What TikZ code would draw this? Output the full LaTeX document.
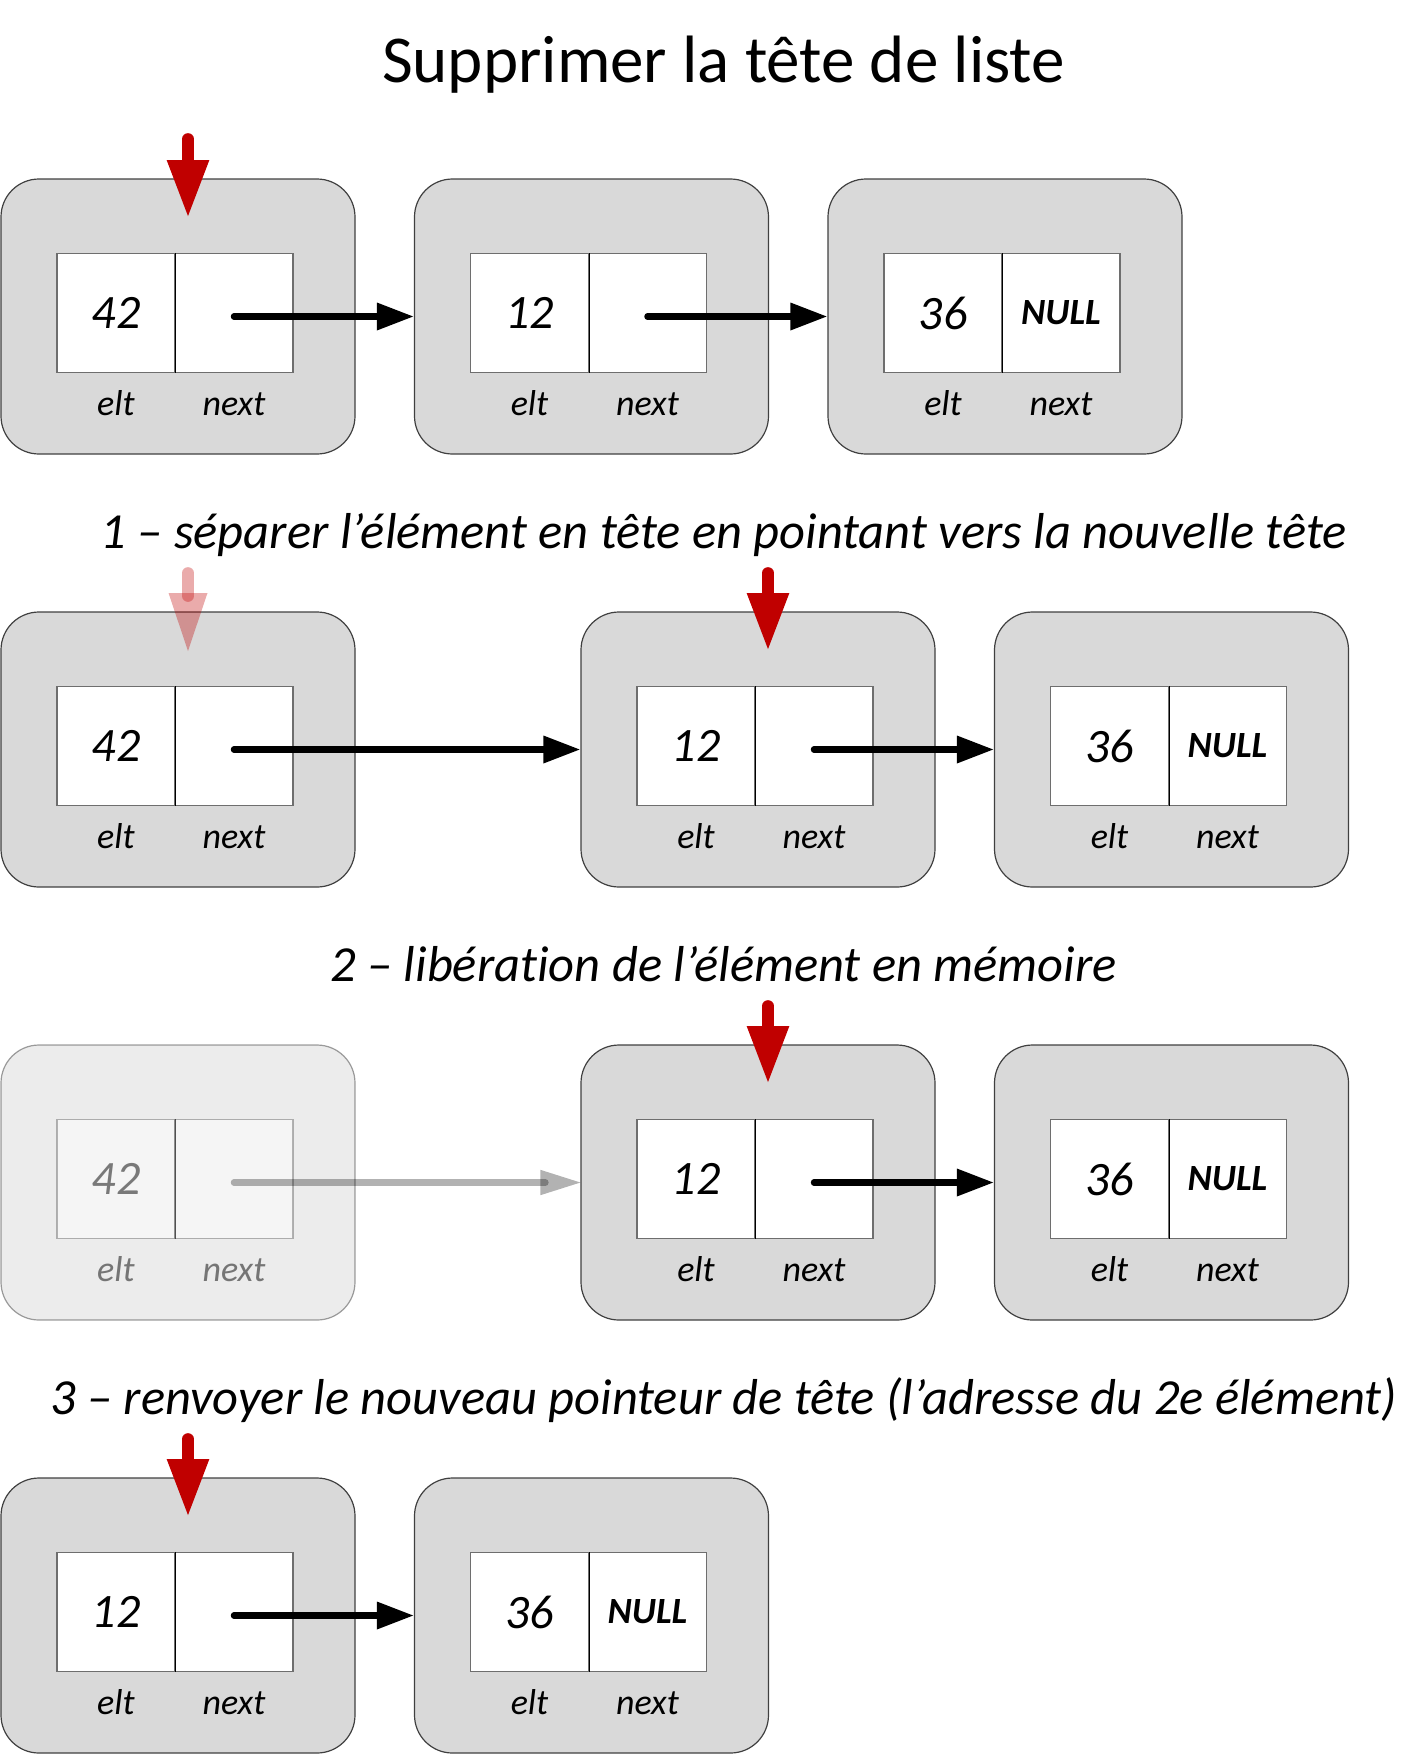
\documentclass[tikz,border=0pt]{standalone}
\usepackage{fontspec}
\setmainfont{Carlito}[Ligatures=NoCommon]
\usetikzlibrary{arrows.meta}
\definecolor{boxgray}{HTML}{D9D9D9}
\definecolor{boxline}{HTML}{404040}
\definecolor{cellline}{HTML}{6E6E6E}
\definecolor{ptrred}{HTML}{C00000}
\tikzset{
  elembox/.style={draw=boxline, fill=boxgray, line width=1.2pt, rounded corners=38pt,
    minimum width=354pt, minimum height=275pt, inner sep=0pt},
  cellbox/.style={draw=cellline, fill=white, line width=1.2pt,
    minimum width=118pt, minimum height=118.5pt, inner sep=0pt},
  valtxt/.style={font=\fontsize{48}{58}\selectfont\itshape, inner sep=0pt},
  nulltxt/.style={font=\fontsize{37}{44}\selectfont\bfseries\itshape, inner sep=0pt},
  labtxt/.style={font=\fontsize{36}{43}\selectfont\itshape, anchor=base, inner sep=0pt},
  ptr/.style={line width=6.5pt, line cap=round, -{Triangle[length=37pt,width=26pt]}},
  headptr/.style={draw=ptrred, fill=ptrred, line width=11.7pt, line cap=round,
    -{Triangle[length=58pt,width=39pt]}},
  titletxt/.style={font=\fontsize{67}{80}\selectfont, anchor=base, inner sep=0pt},
  steptxt/.style={font=\fontsize{50.5}{60}\selectfont\itshape, anchor=base, inner sep=0pt},
}
% #1 name, #2 left x, #3 top y, #4 elt value, #5 next value
\newcommand\listelem[5]{%
  \node[elembox] (#1) at ({#2+177},{#3+137.5}) {};
  \node[cellbox] (#1e) at ({#2+115},{#3+134}) {};
  \node[cellbox] (#1n) at ({#2+233},{#3+134}) {};
  \draw[line width=1.2pt] (#1e.north east) -- (#1e.south east);
  \node[valtxt] (#1v) at (#1e) {#4};
  \node[nulltxt] (#1p) at (#1n) {#5};
  \node[labtxt] (#1l) at ({#2+115},{#3+236}) {elt};
  \node[labtxt] (#1m) at ({#2+233},{#3+236}) {next};
}
\begin{document}
\begin{tikzpicture}[x=1pt,y=-1pt]
\useasboundingbox (0,0) rectangle (1419,1754);
\node[titletxt] (title) at (723.5,82) {Supprimer la tête de liste};

% ---------- row 1
\listelem{a1}{1}{179}{42}{}
\listelem{a2}{414.5}{179}{12}{}
\listelem{a3}{828}{179}{36}{NULL}
\draw[ptr] (a1n.center |- a2.west) -- (a2.west);
\draw[ptr] (a2n.center |- a3.west) -- (a3.west);
\coordinate (h1s) at (188,139);
\coordinate (h1t) at (188,218);
\draw[headptr] (h1s) -- (h1t);

% ---------- step 1
\node[steptxt] (s1) at (723.5,548) {1 – séparer l’élément en tête en pointant vers la nouvelle tête};
\listelem{b1}{1}{612}{42}{}
\listelem{b2}{581}{612}{12}{}
\listelem{b3}{994.5}{612}{36}{NULL}
\draw[ptr] (b1n.center |- b2.west) -- (b2.west);
\draw[ptr] (b2n.center |- b3.west) -- (b3.west);
\coordinate (h2s) at (188,573);
\coordinate (h2e) at (188,596);
\coordinate (h2t) at (188,651);
\draw[ptrred, opacity=0.33, line width=11.7pt, line cap=round] (h2s) -- (h2e);
\fill[ptrred, opacity=0.33] ([xshift=-19.5pt]h2t |- 0,593) -- ([xshift=19.5pt]h2t |- 0,593) -- (h2t) -- cycle;
\coordinate (h3s) at (768,573);
\coordinate (h3t) at (768,651);
\draw[headptr] (h3s) -- (h3t);

% ---------- step 2
\node[steptxt] (s2) at (723.5,981) {2 – libération de l’élément en mémoire};
\begin{scope}[opacity=0.5]
\listelem{c1}{1}{1045}{42}{}
\end{scope}
\listelem{c2}{581}{1045}{12}{}
\listelem{c3}{994.5}{1045}{36}{NULL}
\draw[black, opacity=0.3, line width=6.5pt, line cap=round] (c1n.center |- c2.west) -- ([xshift=-35pt]c2.west);
\fill[black, opacity=0.3] ([xshift=-40pt,yshift=12.7pt]c2.west) -- (c2.west) -- ([xshift=-40pt,yshift=-12.7pt]c2.west) -- cycle;
\draw[ptr] (c2n.center |- c3.west) -- (c3.west);
\coordinate (h4s) at (768,1006);
\coordinate (h4t) at (768,1084);
\draw[headptr] (h4s) -- (h4t);

% ---------- step 3
\node[steptxt] (s3) at (723.5,1414) {3 – renvoyer le nouveau pointeur de tête (l’adresse du 2e élément)};
\listelem{d1}{1}{1478}{12}{}
\listelem{d2}{414.5}{1478}{36}{NULL}
\draw[ptr] (d1n.center |- d2.west) -- (d2.west);
\coordinate (h5s) at (188,1439);
\coordinate (h5t) at (188,1517);
\draw[headptr] (h5s) -- (h5t);
\end{tikzpicture}
\end{document}
